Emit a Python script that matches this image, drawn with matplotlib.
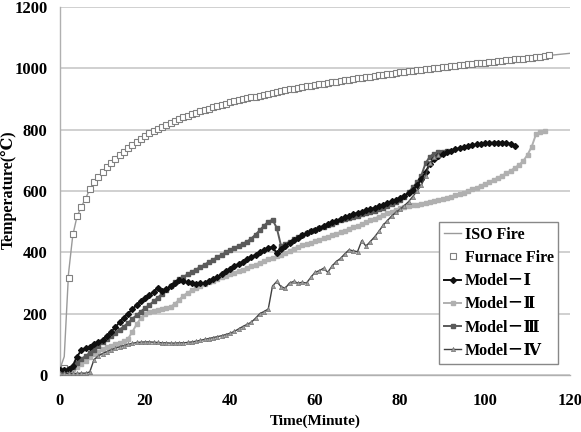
import numpy as np
import matplotlib
matplotlib.use("Agg")
import matplotlib.pyplot as plt

plt.rcParams['font.family'] = ['Liberation Serif', 'DejaVu Serif', 'Noto Sans CJK JP']
plt.rcParams['font.weight'] = 'bold'

# ISO standard fire curve
iso_time = [0, 1, 2, 3, 4, 5, 6, 7, 8, 9, 10, 12, 14, 16, 18, 20, 25, 30, 35, 40, 45, 50,
            55, 60, 65, 70, 75, 80, 85, 90, 95, 100, 105, 110, 115, 120]
iso_temp = [20, 60, 330, 455, 517, 548, 575, 605, 628, 645, 662, 692, 716, 740, 760, 780,
            816, 845, 869, 889, 905, 920, 933, 946, 957, 967, 977, 987, 995, 1004, 1011,
            1019, 1026, 1034, 1042, 1049]

# furnace fire, one reading per minute
furnace_temp = [20, 22, 316, 460, 520, 548, 575, 605, 628, 646, 662, 678, 692, 705, 716, 728,
                740, 750, 760, 770, 780, 788, 796, 803, 810, 816, 822, 828, 834, 840, 845,
                850, 855, 860, 864, 869, 873, 877, 881, 885, 889, 892, 896, 899, 902, 905,
                908, 911, 914, 917, 920, 923, 926, 928, 931, 933, 936, 938, 941, 943, 946,
                948, 950, 952, 955, 957, 959, 961, 963, 965, 967, 969, 971, 973, 975, 977,
                979, 981, 983, 985, 987, 988, 990, 992, 994, 995, 997, 999, 1000, 1002,
                1004, 1005, 1007, 1008, 1010, 1011, 1013, 1014, 1016, 1017, 1019, 1020,
                1022, 1023, 1025, 1026, 1028, 1029, 1031, 1032, 1034, 1035, 1037, 1038,
                1040, 1042]
furnace_time = list(range(len(furnace_temp)))

model1 = [15, 15, 18, 30, 60, 80, 88, 92, 100, 107, 115, 127, 140, 155, 172, 187, 200, 214,
          228, 240, 250, 260, 272, 283, 275, 280, 290, 300, 310, 305, 302, 300, 298, 299,
          300, 305, 312, 318, 328, 338, 347, 355, 362, 370, 378, 385, 392, 400, 406, 414,
          418, 397, 410, 420, 432, 440, 447, 455, 462, 468, 474, 480, 486, 492, 498, 503,
          509, 514, 519, 524, 529, 533, 537, 541, 545, 550, 555, 560, 566, 572, 578, 585,
          593, 603, 618, 638, 662, 688, 703, 713, 720, 726, 731, 736, 740, 744, 747, 750,
          752, 754, 756, 757, 758, 758, 758, 757, 754, 748]

model2 = [12, 12, 14, 18, 25, 35, 45, 58, 68, 76, 84, 90, 96, 100, 105, 110, 118, 140, 165,
          185, 198, 205, 209, 212, 215, 218, 222, 232, 245, 258, 268, 276, 283, 290, 296,
          302, 308, 313, 318, 324, 329, 334, 339, 344, 349, 355, 360, 366, 371, 377, 382,
          387, 392, 398, 405, 412, 418, 423, 427, 431, 436, 441, 446, 451, 456, 461, 466,
          471, 476, 481, 487, 492, 498, 504, 510, 516, 522, 528, 533, 538, 543, 548, 551,
          553, 555, 557, 560, 563, 566, 570, 574, 578, 582, 586, 590, 595, 600, 605, 611,
          617, 623, 629, 636, 643, 650, 658, 666, 675, 685, 698, 718, 745, 785, 792, 797]

model3 = [15, 15, 18, 25, 40, 52, 62, 72, 82, 95, 108, 118, 128, 138, 148, 158, 170, 183,
          195, 207, 218, 228, 240, 252, 265, 277, 290, 302, 312, 320, 328, 336, 344, 352,
          360, 368, 376, 384, 392, 400, 406, 414, 421, 428, 435, 445, 458, 472, 487, 500,
          506, 480, 422, 427, 435, 442, 449, 456, 462, 468, 474, 479, 484, 489, 494, 499,
          504, 508, 512, 516, 520, 524, 528, 532, 536, 540, 545, 552, 558, 565, 572, 582,
          596, 612, 628, 650, 690, 712, 722, 726, 728, 732]

model4 = [8, 6, 5, 5, 5, 6, 6, 10, 50, 62, 70, 76, 82, 87, 92, 96, 100, 103, 106, 107, 108,
          108, 107, 106, 105, 105, 104, 104, 105, 105, 106, 108, 110, 113, 116, 119, 122,
          125, 128, 132, 136, 142, 150, 158, 165, 172, 185, 200, 207, 215, 290, 305, 288,
          283, 300, 305, 300, 302, 300, 318, 335, 340, 348, 335, 355, 370, 380, 395, 408,
          405, 402, 438, 420, 435, 450, 468, 488, 503, 518, 530, 540, 552, 565, 582, 600,
          618, 650, 690, 710, 718]

fig = plt.figure(figsize=(5.81, 4.32), dpi=100)
ax = fig.add_axes([60 / 581, 1 - 375 / 432, 510 / 581, 368 / 432])

ax.plot(iso_time, iso_temp, color='#9a9a9a', lw=1.0, label='ISO Fire', zorder=3)
ax.plot(furnace_time, furnace_temp, ls='none', marker='s', ms=4.5, mfc='white',
        mec='#808080', mew=0.8, label='Furnace Fire', zorder=4)
ax.plot(range(len(model1)), model1, color='#101010', lw=1.4, marker='D', ms=3,
        label='Model－Ⅰ', zorder=5)
ax.plot(range(len(model2)), model2, color='#b0b0b0', lw=1.4, marker='s', ms=3.5,
        label='Model－Ⅱ', zorder=4)
ax.plot(range(len(model3)), model3, color='#5a5a5a', lw=1.4, marker='s', ms=3.5,
        label='Model－Ⅲ', zorder=4)
ax.plot(range(len(model4)), model4, color='#404040', lw=1.0, marker='^', ms=3,
        mfc='#a0a0a0', mec='#707070', mew=0.5, label='Model－Ⅳ', zorder=6)

ax.set_xlim(0, 120)
ax.set_ylim(0, 1200)
ax.set_xticks(range(0, 121, 20))
ax.set_yticks(range(0, 1201, 200))
ax.tick_params(length=0, labelsize=12)
ax.tick_params(axis='y', pad=9)
ax.tick_params(axis='x', pad=13)
ax.yaxis.grid(True, color='#c8c8c8', lw=1.2)
ax.set_axisbelow(True)
for s in ['top', 'right']:
    ax.spines[s].set_visible(False)
for s in ['left', 'bottom']:
    ax.spines[s].set_color('#b0b0b0')
    ax.spines[s].set_linewidth(1.0)

fig.text(315 / 581, 1 - 421 / 432, 'Time(Minute)', ha='center', va='center',
         fontsize=11, fontweight='bold')
fig.text(9 / 581, 1 - 190 / 432, 'Temperature(℃)', ha='center', va='center',
         rotation=90, fontsize=11.5, fontweight='bold')

leg = ax.legend(loc='upper left', bbox_to_anchor=(439 / 581, 1 - 222 / 432),
                bbox_transform=fig.transFigure, borderaxespad=0, frameon=True,
                fancybox=False, edgecolor='#888888', framealpha=1,
                prop={'size': 11.5, 'weight': 'bold'}, handlelength=1.1,
                handletextpad=0.2, labelspacing=0.45, borderpad=0.3)
leg.get_frame().set_linewidth(1.0)

fig.savefig('out.png', dpi=100)
